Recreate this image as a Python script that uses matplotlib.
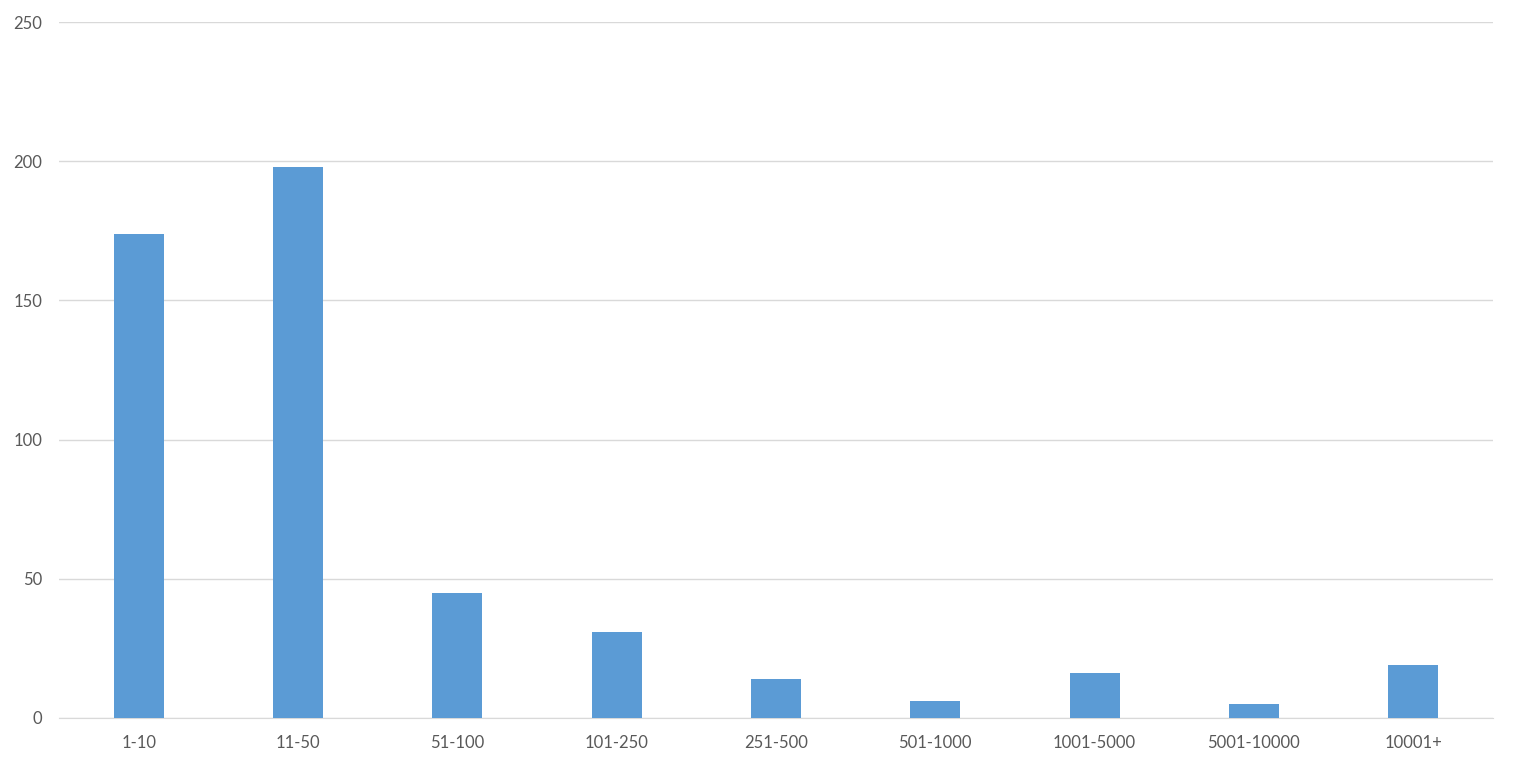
import matplotlib
matplotlib.use("Agg")
import matplotlib.pyplot as plt

categories = ['1-10', '11-50', '51-100', '101-250', '251-500',
              '501-1000', '1001-5000', '5001-10000', '10001+']
counts = [174, 198, 45, 31, 14, 6, 16, 5, 19]


def main():
    plt.rcParams['font.family'] = ['Lato', 'DejaVu Sans']

    fig = plt.figure(figsize=(15.16, 7.67), dpi=100)
    ax = fig.add_axes([0.0389, 0.0639, 0.9459, 0.9074])

    x = range(len(categories))
    ax.bar(x, counts, width=0.315, color='#5B9BD5', zorder=3)

    ax.set_xlim(-0.5, len(categories) - 0.5)
    ax.set_ylim(0, 250)
    ax.set_yticks([0, 50, 100, 150, 200, 250])
    ax.set_xticks(list(x))
    ax.set_xticklabels(categories)

    ax.grid(axis='y', color='#d9d9d9', linewidth=1, zorder=0)
    for side in ['top', 'right', 'left']:
        ax.spines[side].set_visible(False)
    ax.spines['bottom'].set_color('#d9d9d9')
    ax.tick_params(axis='both', length=0, labelsize=12, colors='#595959')
    ax.tick_params(axis='y', pad=12)
    ax.tick_params(axis='x', pad=12)

    fig.savefig('out.png', dpi=100, facecolor='white')


if __name__ == "__main__":
    main()
